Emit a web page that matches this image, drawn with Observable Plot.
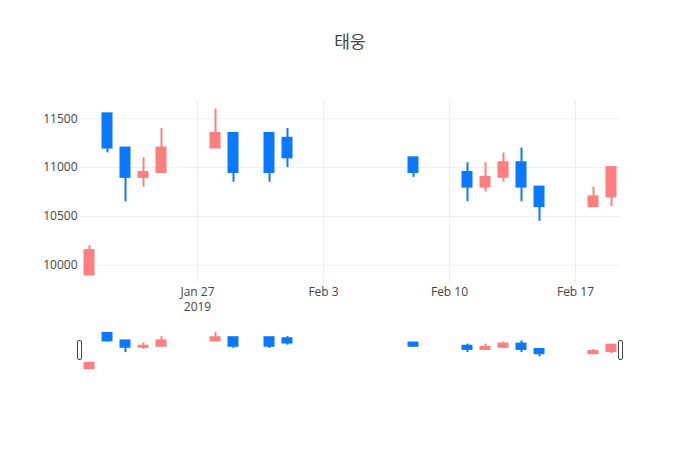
<!DOCTYPE html>
<html>
<head>
<meta charset="utf-8">
<script src="https://cdn.jsdelivr.net/npm/d3@7"></script>
<script src="https://cdn.jsdelivr.net/npm/@observablehq/plot@0.6"></script>
<style>
  html, body { margin: 0; padding: 0; background: #fff; }
  #wrap { position: relative; width: 700px; height: 450px; font-family: "Open Sans", "Noto Sans CJK KR", sans-serif; }
  #title { position: absolute; left: 0; width: 700px; top: 32px; text-align: center; font-size: 17px; line-height: 20px; color: #444; font-family: "Open Sans", "Noto Sans CJK KR", sans-serif; }
  #main, #slider { position: absolute; left: 0; }
  #main { top: 0; }
  #slider { top: 320px; }
  .grab { position: absolute; top: 340px; width: 3px; height: 18px; border: 1px solid #444; border-radius: 2px; background: #fff; }
</style>
</head>
<body>
<div id="wrap">
  <div id="main"></div>
  <div id="slider"></div>
  <div id="title">태웅</div>
  <div class="grab" style="left:77px"></div>
  <div class="grab" style="left:618px"></div>
</div>
<script>
// ---- data ----
const dates = ["2019-01-21","2019-01-22","2019-01-23","2019-01-24","2019-01-25","2019-01-28","2019-01-29","2019-01-31","2019-02-01","2019-02-08","2019-02-11","2019-02-12","2019-02-13","2019-02-14","2019-02-15","2019-02-18","2019-02-19"];
const open  = [9900, 11550, 11200, 10900, 10950, 11200, 11350, 11350, 11300, 11100, 10950, 10800, 10900, 11050, 10800, 10600, 10700];
const high  = [10200,11550, 11200, 11100, 11400, 11600, 11350, 11350, 11400, 11100, 11050, 11050, 11150, 11200, 10800, 10800, 11000];
const low   = [9900, 11150, 10650, 10800, 10950, 11200, 10850, 10850, 11000, 10900, 10650, 10750, 10850, 10650, 10450, 10600, 10600];
const close = [10150,11200, 10900, 10950, 11200, 11350, 10950, 10950, 11100, 10950, 10800, 10900, 11050, 10800, 10600, 10700, 11000];

const yTicks = [10000, 10500, 11000, 11500];
const xTickDates = ["2019-01-27", "2019-02-03", "2019-02-10", "2019-02-17"];
const xTickLabels = ["Jan 27\n2019", "Feb 3", "Feb 10", "Feb 17"];

const UP = "#ff7f7f";
const DOWN = "#0a78ff";

const rows = dates.map((d, i) => ({date: new Date(d + "T00:00:00Z"), open: open[i], high: high[i], low: low[i], close: close[i]}));
const ups = rows.filter(d => d.close >= d.open);
const downs = rows.filter(d => d.close < d.open);
const xt = xTickDates.map((d, i) => ({date: new Date(d + "T00:00:00Z"), label: xTickLabels[i]}));

const xDomain = [new Date("2019-01-20T12:00:00Z"), new Date("2019-02-19T12:00:00Z")];
const yDomain = [9813, 11687];

function candleMarks(wick) {
  const marks = [];
  for (const [set, col] of [[ups, UP], [downs, DOWN]]) {
    marks.push(Plot.ruleX(set, {x: "date", y1: "low", y2: "high", stroke: col, strokeWidth: wick}));
    marks.push(Plot.rect(set, {
      x1: d => d3.utcHour.offset(d.date, -6),
      x2: d => d3.utcHour.offset(d.date, 6),
      y1: "open", y2: "close",
      fill: col, stroke: col, strokeWidth: 2
    }));
  }
  return marks;
}

const main = Plot.plot({
  width: 700,
  height: 300,
  marginTop: 100,
  marginBottom: 17,
  marginLeft: 80,
  marginRight: 80,
  style: {color: "#444", fontFamily: "Open Sans, sans-serif", fontSize: "12px", background: "transparent", overflow: "visible"},
  x: {type: "utc", domain: xDomain, axis: null},
  y: {domain: yDomain, axis: null},
  marks: [
    Plot.gridX(xt.map(d => d.date), {stroke: "#eee", strokeOpacity: 1, strokeWidth: 1}),
    Plot.gridY(yTicks, {stroke: "#eee", strokeOpacity: 1, strokeWidth: 1}),
    Plot.axisY(yTicks, {tickSize: 0, tickPadding: 3, tickFormat: d => String(d), label: null, fontSize: 12, fill: "#444"}),
    Plot.text(xt, {x: "date", text: "label", frameAnchor: "bottom", lineAnchor: "top", dy: 1, lineHeight: 1.3, fontSize: 12, fill: "#444"}),
    ...candleMarks(2)
  ]
});
document.getElementById("main").append(main);

const slider = Plot.plot({
  width: 700,
  height: 70,
  marginTop: 10,
  marginBottom: 20,
  marginLeft: 80,
  marginRight: 80,
  style: {background: "transparent"},
  x: {type: "utc", domain: xDomain, axis: null},
  y: {domain: yDomain, axis: null},
  marks: [
    ...candleMarks(2)
  ]
});
document.getElementById("slider").append(slider);
</script>
</body>
</html>
